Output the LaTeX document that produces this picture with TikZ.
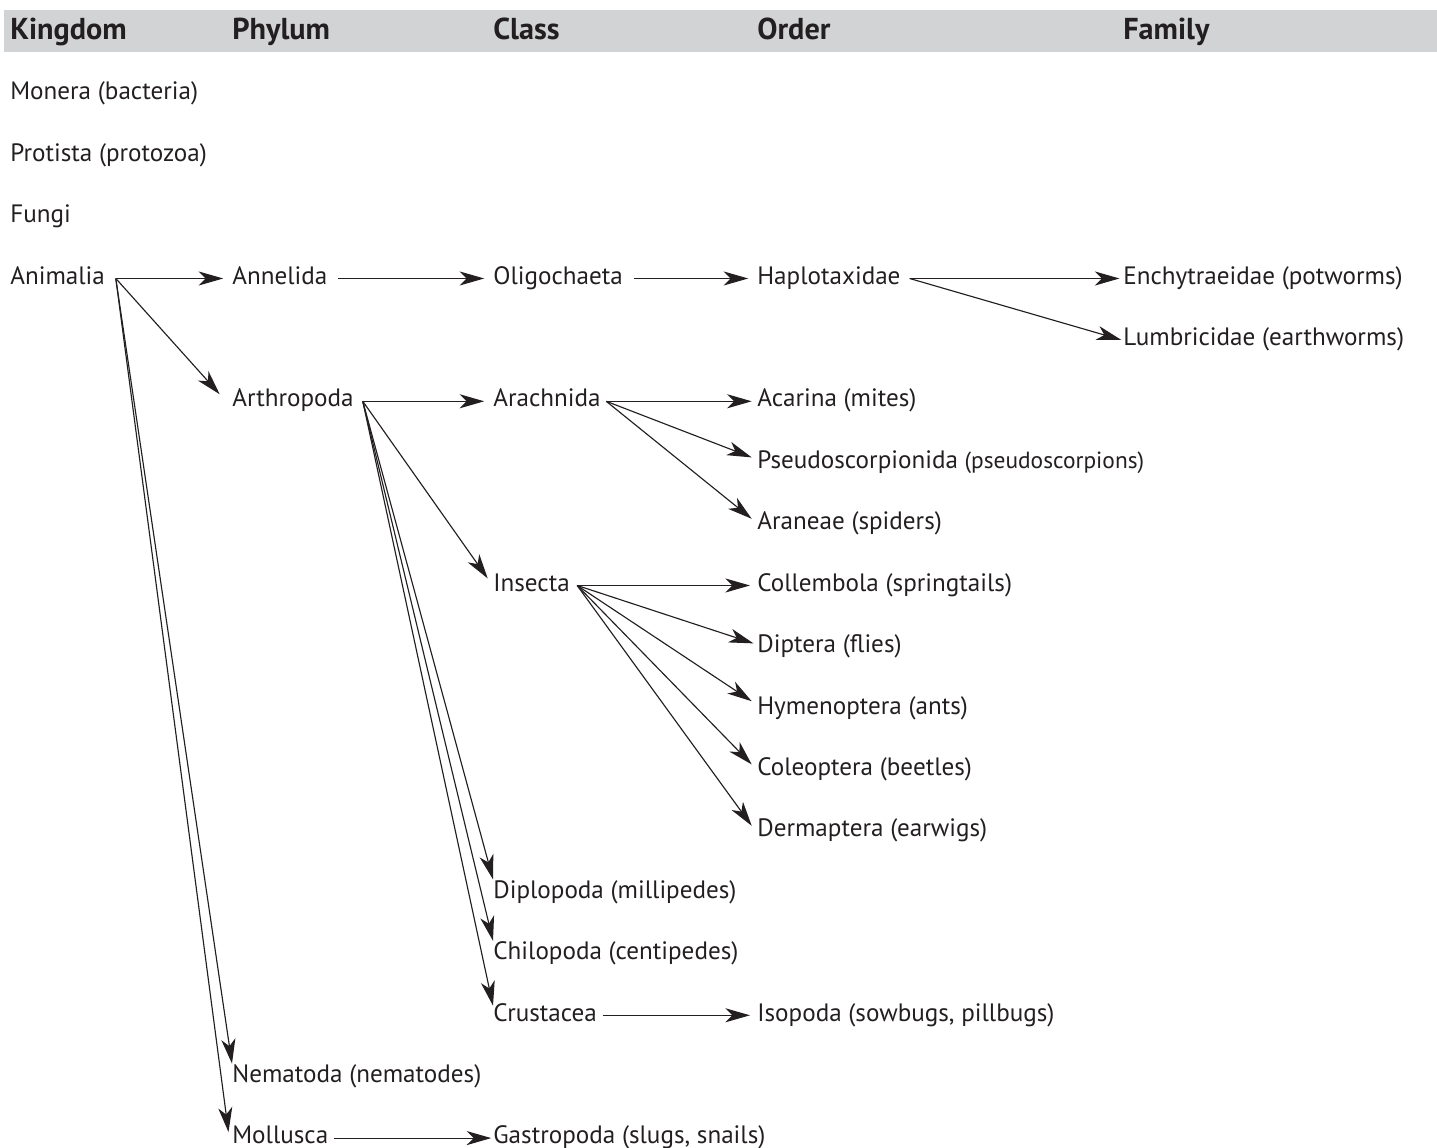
\documentclass[tikz,border=0pt]{standalone}
\usepackage{fontspec}
\setmainfont{PT Sans}
\usepackage{xcolor}
\usetikzlibrary{arrows.meta}
\definecolor{headgray}{RGB}{209,211,212}
\definecolor{ink}{RGB}{35,31,32}

\begin{document}
\begin{tikzpicture}[x=0.02cm, y=-0.02cm,
        taxon/.style={anchor=base west, inner xsep=0pt, inner ysep=0pt, text height=0.75em, text depth=0.1em, text=ink, font=\fontsize{14.3}{17}\selectfont},
        head/.style={anchor=base west, inner sep=0pt, text=ink, font=\fontsize{17.2}{20}\selectfont\bfseries},
        arrow/.style={-{Stealth[length=14pt, width=8pt, inset=4pt]}, line width=0.65pt, ink}]

        \useasboundingbox (0,0) rectangle (1437,1148);

        % Header bar
        \fill[headgray] (4,10) rectangle (1437,52);
        \node[head] (hkingdom) at (10,40) {Kingdom};
        \node[head] (hphylum) at (232,40) {Phylum};
        \node[head] (hclass) at (493,40) {Class};
        \node[head] (horder) at (757,40) {Order};
        \node[head] (hfamily) at (1123,40) {Family};

        % Kingdom
        \node[taxon] (monera) at (10,100) {Monera (bacteria)};
        \node[taxon] (protista) at (10,161.4) {Protista (protozoa)};
        \node[taxon] (fungi) at (10,222.8) {Fungi};
        \node[taxon] (animalia) at (10,284.2) {Animalia};

        % Phylum
        \node[taxon] (annelida) at (232,284.2) {Annelida};
        \node[taxon] (arthropoda) at (232,407) {Arthropoda};
        \node[taxon] (nematoda) at (232,1082.4) {Nematoda (nematodes)};
        \node[taxon] (mollusca) at (232,1143.8) {Mollusca};

        % Class
        \node[taxon] (oligochaeta) at (493,284.2) {Oligochaeta};
        \node[taxon] (arachnida) at (493,407) {Arachnida};
        \node[taxon] (insecta) at (493,591.2) {Insecta};
        \node[taxon] (diplopoda) at (493,898.2) {Diplopoda (millipedes)};
        \node[taxon] (chilopoda) at (493,959.6) {Chilopoda (centipedes)};
        \node[taxon] (crustacea) at (493,1021) {Crustacea};
        \node[taxon] (gastropoda) at (493,1143.8) {Gastropoda (slugs, snails)};

        % Order
        \node[taxon] (haplotaxidae) at (757,284.2) {Haplotaxidae};
        \node[taxon] (acarina) at (757,407) {Acarina (mites)};
        \node[taxon] (pseudo) at (757,468.4) {Pseudoscorpionida {\fontsize{13.3}{16}\selectfont(pseudoscorpions)}};
        \node[taxon] (araneae) at (757,529.8) {Araneae (spiders)};
        \node[taxon] (collembola) at (757,591.2) {Collembola (springtails)};
        \node[taxon] (diptera) at (757,652.6) {Diptera (flies)};
        \node[taxon] (hymenoptera) at (757,714) {Hymenoptera (ants)};
        \node[taxon] (coleoptera) at (757,775.4) {Coleoptera (beetles)};
        \node[taxon] (dermaptera) at (757,836.8) {Dermaptera (earwigs)};
        \node[taxon] (isopoda) at (757,1021) {Isopoda (sowbugs, pillbugs)};

        % Family
        \node[taxon] (enchy) at (1123,284.2) {Enchytraeidae (potworms)};
        \node[taxon] (lumbri) at (1123,345.6) {Lumbricidae (earthworms)};

        % Arrows from Animalia
        \draw[arrow] ([xshift=6pt]animalia.east) -- ([xshift=-5pt]annelida.west);
        \draw[arrow] ([xshift=6pt]animalia.east) -- ([xshift=-7pt,yshift=4pt]arthropoda.west);
        \draw[arrow] ([xshift=6pt]animalia.east) -- ([yshift=3pt]nematoda.north west);
        \draw[arrow] ([xshift=6pt]animalia.east) -- ([xshift=-2pt,yshift=-1pt]mollusca.north west);

        % Arrows from Annelida
        \draw[arrow] ([xshift=6pt]annelida.east) -- ([xshift=-5pt]oligochaeta.west);
        \draw[arrow] ([xshift=6pt]oligochaeta.east) -- ([xshift=-5pt]haplotaxidae.west);
        \draw[arrow] ([xshift=5pt]haplotaxidae.east) -- ([xshift=-2pt]enchy.west);
        \draw[arrow] ([xshift=5pt]haplotaxidae.east) -- ([xshift=-1pt]lumbri.west);

        % Arrows from Arthropoda
        \draw[arrow] ([xshift=5pt]arthropoda.east) -- ([xshift=-5pt]arachnida.west);
        \draw[arrow] ([xshift=5pt]arthropoda.east) -- ([xshift=-3pt,yshift=4pt]insecta.west);
        \draw[arrow] ([xshift=5pt]arthropoda.east) -- ([yshift=3pt]diplopoda.north west);
        \draw[arrow] ([xshift=5pt]arthropoda.east) -- ([yshift=3pt]chilopoda.north west);
        \draw[arrow] ([xshift=5pt]arthropoda.east) -- ([yshift=1pt]crustacea.north west);

        % Arrows from Arachnida
        \draw[arrow] ([xshift=3pt]arachnida.east) -- ([xshift=-3pt]acarina.west);
        \draw[arrow] ([xshift=3pt]arachnida.east) -- ([xshift=-3pt,yshift=3pt]pseudo.west);
        \draw[arrow] ([xshift=3pt]arachnida.east) -- ([xshift=-3pt,yshift=3pt]araneae.west);

        % Arrows from Insecta
        \draw[arrow] ([xshift=4pt]insecta.east) -- ([xshift=-4pt]collembola.west);
        \draw[arrow] ([xshift=4pt]insecta.east) -- ([xshift=-2pt,yshift=2pt]diptera.west);
        \draw[arrow] ([xshift=4pt]insecta.east) -- ([xshift=-3pt,yshift=4pt]hymenoptera.west);
        \draw[arrow] ([xshift=4pt]insecta.east) -- ([xshift=-3pt,yshift=3pt]coleoptera.west);
        \draw[arrow] ([xshift=4pt]insecta.east) -- ([xshift=-3pt,yshift=3pt]dermaptera.west);

        % Remaining horizontal arrows
        \draw[arrow] ([xshift=3pt]crustacea.east) -- ([xshift=-4pt]isopoda.west);
        \draw[arrow] ([xshift=3pt]mollusca.east) -- ([xshift=-1pt]gastropoda.west);

    \end{tikzpicture}
\end{document}
